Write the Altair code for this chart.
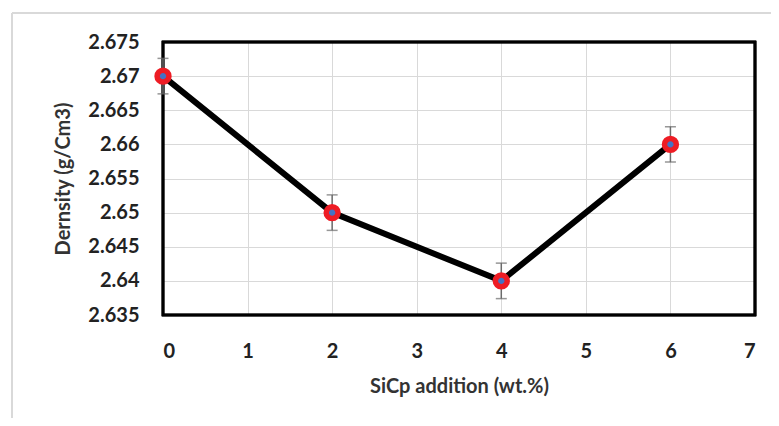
import altair as alt
import pandas as pd

x_vals = [0, 2, 4, 6]
density = [2.670, 2.650, 2.640, 2.660]
err = [0.0026, 0.0026, 0.0026, 0.0026]
y_ticks = [2.635, 2.64, 2.645, 2.65, 2.655, 2.66, 2.665, 2.67, 2.675]
x_ticks = [0, 1, 2, 3, 4, 5, 6, 7]

df = pd.DataFrame({"x": x_vals, "y": density, "e": err})
df["lo"] = df["y"] - df["e"]
df["hi"] = df["y"] + df["e"]

FONT = "Lato"
W, H = 592, 273
xs = alt.Scale(domain=[0, 7], nice=False)
ys = alt.Scale(domain=[2.635, 2.675], nice=False, zero=False)

ylab = ("substring(format(datum.value, '.3f'), 4, 5) == '0' ? "
        "format(datum.value, '.2f') : format(datum.value, '.3f')")

xax = alt.Axis(values=x_ticks, title="SiCp addition (wt.%)", format="d",
               labelFont=FONT, labelFontSize=20, labelFontWeight="bold", labelColor="#222",
               labelPadding=26, tickSize=0, domain=False, labelOverlap=False,
               titleFont=FONT, titleFontSize=20, titleFontWeight="bold", titleColor="#333",
               titlePadding=15, grid=True, gridColor="#d9d9d9", gridWidth=1)
yax = alt.Axis(values=y_ticks, title="Dernsity (g/Cm3)", labelExpr=ylab,
               labelFont=FONT, labelFontSize=20, labelFontWeight="bold", labelColor="#222",
               labelPadding=24, tickSize=0, domain=False, labelOverlap=False,
               labelBound=False,
               titleFont=FONT, titleFontSize=20, titleFontWeight="bold", titleColor="#333",
               titlePadding=14, grid=True, gridColor="#d9d9d9", gridWidth=1)

X = alt.X("x:Q", scale=xs, axis=xax)

base = alt.Chart(df)

line = base.mark_line(color="black", strokeWidth=6).encode(
    x=X, y=alt.Y("y:Q", scale=ys, axis=yax),
)
bars = base.mark_rule(color="#6b6b6b", strokeWidth=1.5).encode(
    x=X, y=alt.Y("lo:Q", scale=ys, axis=yax), y2="hi:Q"
)
cap_lo = base.mark_tick(color="#6b6b6b", thickness=1.5, size=11, orient="horizontal").encode(
    x=X, y=alt.Y("lo:Q", scale=ys, axis=yax)
)
cap_hi = base.mark_tick(color="#6b6b6b", thickness=1.5, size=11, orient="horizontal").encode(
    x=X, y=alt.Y("hi:Q", scale=ys, axis=yax)
)
pts = base.mark_point(filled=True, fill="#4472c4", stroke="#ee1c24", strokeWidth=5.5,
                      size=140, opacity=1, shape="circle", clip=False).encode(
    x=X, y=alt.Y("y:Q", scale=ys, axis=yax))

frame = alt.Chart(df).mark_rule(color="#d9d9d9", strokeWidth=1.5, clip=False).encode(
    x=alt.value(-151), x2=alt.value(620), y=alt.value(-29)
)
frame2 = alt.Chart(df).mark_rule(color="#d9d9d9", strokeWidth=1.5, clip=False).encode(
    x=alt.value(-151), y=alt.value(-29), y2=alt.value(420)
)
border = alt.Chart(df).mark_rect(fill=None, fillOpacity=0, stroke="black", strokeWidth=2.5).encode(
    x=alt.value(0), x2=alt.value(W), y=alt.value(0), y2=alt.value(H)
)

chart = alt.layer(line, frame, frame2, border, bars, cap_lo, cap_hi, pts).properties(
    width=W, height=H,
    autosize=alt.AutoSizeParams(type="none"),
    padding={"left": 155, "top": 34, "right": 16, "bottom": 103},
).configure_view(stroke=None).configure_axis(labelOverlap=False).configure(background="white")

chart.save("out.html", embed_options={"renderer": "svg", "actions": False})
